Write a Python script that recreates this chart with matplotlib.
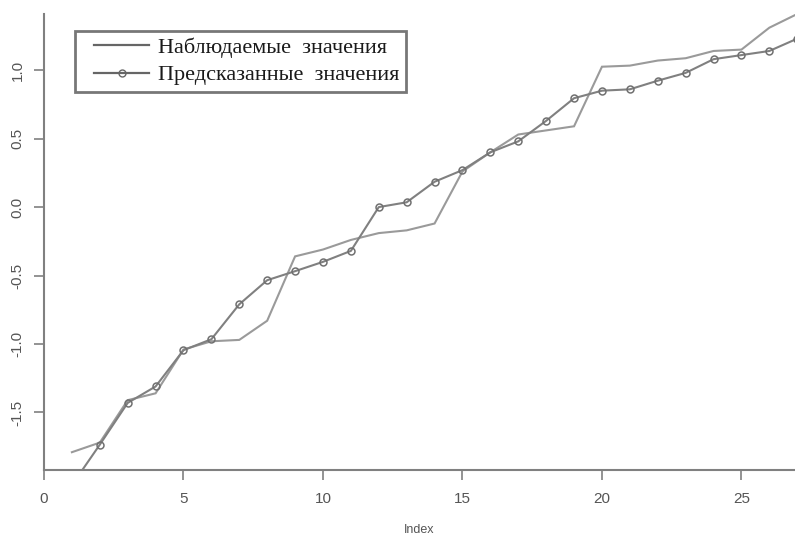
import matplotlib
matplotlib.use("Agg")
import matplotlib.pyplot as plt
from matplotlib.lines import Line2D
from matplotlib.legend_handler import HandlerLine2D

index = list(range(1, 28))
observed = [-1.79, -1.72, -1.41, -1.36, -1.04, -0.98, -0.97, -0.83, -0.36, -0.31,
            -0.24, -0.19, -0.17, -0.12, 0.26, 0.40, 0.53, 0.56, 0.59, 1.025,
            1.033, 1.07, 1.087, 1.14, 1.15, 1.31, 1.41]
predicted = [-2.03, -1.735, -1.43, -1.31, -1.045, -0.965, -0.71, -0.534, -0.468, -0.40,
             -0.32, 0.0, 0.035, 0.185, 0.27, 0.40, 0.48, 0.63, 0.795, 0.85,
             0.86, 0.923, 0.98, 1.08, 1.11, 1.14, 1.23]
legend_labels = ["Наблюдаемые  значения", "Предсказанные  значения"]
xticks = [0, 5, 10, 15, 20, 25]
yticks = [-1.5, -1.0, -0.5, 0.0, 0.5, 1.0]

fig = plt.figure(figsize=(7.95, 5.36), dpi=100)
ax = fig.add_axes([44/795, 66/536, 1 - 44/795, (470-14)/536])

ax.plot(index, observed, color="#9a9a9a", lw=1.5, solid_joinstyle="miter")
ax.plot(index, predicted, color="#808080", lw=1.5, marker="o", markersize=5,
        markerfacecolor="none", markeredgecolor="#707070", markeredgewidth=1.1)

ax.set_xlim(0, 26.92)
ax.set_ylim(-1.92, 1.41)

for s in ["top", "right"]:
    ax.spines[s].set_visible(False)
for s in ["left", "bottom"]:
    ax.spines[s].set_color("#808080")
    ax.spines[s].set_linewidth(1.5)

ax.set_xticks(xticks)
ax.set_xticklabels([str(t) for t in xticks])
ax.set_yticks(yticks)
ax.set_yticklabels([f"{t:.1f}" for t in yticks], rotation=90, va="center")
ax.tick_params(axis="x", direction="out", length=7, width=1.2, color="#808080",
               labelcolor="#555555", labelsize=11, pad=9)
ax.tick_params(axis="y", direction="out", length=7, width=1.2, color="#808080",
               labelcolor="#555555", labelsize=11, pad=7)
for lab in ax.get_xticklabels() + ax.get_yticklabels():
    lab.set_fontfamily("Liberation Sans")

ax.set_xlabel("Index", fontsize=9, color="#555555", family="Liberation Sans", labelpad=13)

handles = [Line2D([], [], color="#666666", lw=1.6),
           Line2D([], [], color="#666666", lw=1.6, marker="o", markersize=5,
                  markerfacecolor="none", markeredgecolor="#666666")]
hm = {h: HandlerLine2D(xpad=0.56) for h in handles}
leg = ax.legend(handles, legend_labels, loc="upper left",
                bbox_to_anchor=((75-44)/(795-44), (470-31)/(470-14)),
                prop={"family": "Liberation Serif", "size": 16},
                handler_map=hm,
                frameon=True, fancybox=False, handlelength=3.05, handletextpad=0.4,
                borderpad=0.3, labelspacing=0.3, borderaxespad=0)
leg.get_frame().set_edgecolor("#555555")
leg.get_frame().set_linewidth(2)
for t in leg.get_texts():
    t.set_color("#1a1a1a")

fig.savefig("out.png", dpi=100)
